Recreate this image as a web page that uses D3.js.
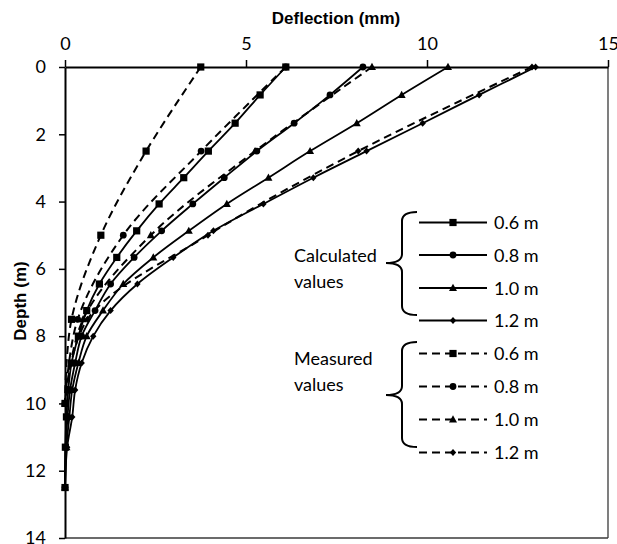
<!DOCTYPE html>
<html>
<head>
<meta charset="utf-8">
<script src="https://cdn.jsdelivr.net/npm/d3@7"></script>
<style>
  html, body { margin: 0; padding: 0; background: #fff; }
  svg { display: block; }
</style>
</head>
<body>
<svg id="chart" width="617" height="544"></svg>
<script>
// ---------------- data ----------------
const xTicks = [0, 5, 10, 15];
const yTicks = [0, 2, 4, 6, 8, 10, 12, 14];

const calcDepth = [0, 0.83, 1.67, 2.5, 3.29, 4.07, 4.87, 5.66, 6.45, 7.24, 8.0, 8.8, 9.6, 10.4, 11.3, 12.5];
const calc06 = [6.1, 5.39, 4.7, 3.96, 3.28, 2.6, 1.98, 1.43, 0.95, 0.6, 0.37, 0.18, 0.09, 0.04, 0.01, 0];
const calc08 = [8.23, 7.32, 6.33, 5.3, 4.4, 3.53, 2.67, 1.91, 1.26, 0.83, 0.46, 0.28, 0.14, 0.07, 0.02, 0];
const calc10 = [10.58, 9.3, 8.06, 6.77, 5.62, 4.47, 3.42, 2.44, 1.61, 1.05, 0.6, 0.37, 0.2, 0.12, 0.04, 0];
const calc12 = [13.0, 11.44, 9.88, 8.33, 6.86, 5.48, 4.1, 2.99, 2.0, 1.26, 0.78, 0.46, 0.28, 0.2, 0.06, 0];

const measDepth = [0, 2.5, 5, 7.5, 10];
const meas06 = [3.75, 2.24, 0.99, 0.18, 0];
const meas08 = [6.1, 3.76, 1.61, 0.35, 0];
const meas10 = [8.48, 5.25, 2.37, 0.5, 0];
const meas12 = [12.9, 8.1, 3.95, 0.62, 0];

const seriesNames = ["0.6 m", "0.8 m", "1.0 m", "1.2 m"];
const markerTypes = ["square", "circle", "triangle", "diamond"];
const calcSeries = [calc06, calc08, calc10, calc12];
const measSeries = [meas06, meas08, meas10, meas12];
const groupLabels = [["Calculated", "values"], ["Measured", "values"]];

// ---------------- layout ----------------
const svg = d3.select("#chart");
const x = d3.scaleLinear().domain([0, 15]).range([65, 608]);
const y = d3.scaleLinear().domain([0, 14]).range([67, 538]);

const TXT = "Lato, 'Open Sans', sans-serif";
const BOLD = "'Liberation Sans', Arial, sans-serif";

// frame (right and bottom)
svg.append("line").attr("x1", x(15)).attr("x2", x(15)).attr("y1", y(0)).attr("y2", y(14))
  .attr("stroke", "#3a3a3a").attr("stroke-width", 1.3);
svg.append("line").attr("x1", x(0)).attr("x2", x(15)).attr("y1", y(14)).attr("y2", y(14))
  .attr("stroke", "#3a3a3a").attr("stroke-width", 1.3);

// axes
const gx = svg.append("g").attr("transform", `translate(0,${y(0)})`)
  .call(d3.axisTop(x).tickValues(xTicks).tickSize(7).tickSizeOuter(0).tickPadding(10));
const gy = svg.append("g").attr("transform", `translate(${x(0)},0)`)
  .call(d3.axisLeft(y).tickValues(yTicks).tickSize(6).tickSizeOuter(0).tickPadding(13));
[gx, gy].forEach(g => {
  g.select(".domain").attr("stroke", "#000").attr("stroke-width", 2);
  g.selectAll(".tick line").attr("stroke", "#000").attr("stroke-width", 1.5);
  g.selectAll(".tick text").attr("font-family", TXT).attr("font-size", 18).attr("fill", "#000");
});

// axis titles
svg.append("text").attr("x", 336).attr("y", 24).attr("text-anchor", "middle")
  .attr("font-family", BOLD).attr("font-weight", "bold").attr("font-size", 17)
  .text("Deflection (mm)");
svg.append("text").attr("transform", "translate(26,301) rotate(-90)").attr("text-anchor", "middle")
  .attr("font-family", BOLD).attr("font-weight", "bold").attr("font-size", 17)
  .text("Depth (m)");

// markers
function drawMarker(g, type, cx, cy) {
  if (type === "square") {
    g.append("rect").attr("x", cx - 3.6).attr("y", cy - 3.6).attr("width", 7.2).attr("height", 7.2).attr("fill", "#000");
  } else if (type === "circle") {
    g.append("circle").attr("cx", cx).attr("cy", cy).attr("r", 3.4).attr("fill", "#000");
  } else if (type === "triangle") {
    g.append("path").attr("d", `M${cx},${cy - 4.2}L${cx + 4},${cy + 3}L${cx - 4},${cy + 3}Z`).attr("fill", "#000");
  } else {
    g.append("path").attr("d", `M${cx},${cy - 3.5}L${cx + 3.2},${cy}L${cx},${cy + 3.5}L${cx - 3.2},${cy}Z`).attr("fill", "#000");
  }
}

const line = d3.line().x(d => x(d[0])).y(d => y(d[1])).curve(d3.curveCatmullRom.alpha(0.5));

const plot = svg.append("g");
// measured (dashed)
measSeries.forEach((vals, i) => {
  const pts = vals.map((v, j) => [v, measDepth[j]]);
  plot.append("path").attr("d", line(pts)).attr("fill", "none").attr("stroke", "#000")
    .attr("stroke-width", 2).attr("stroke-dasharray", "8,5");
  pts.forEach(p => drawMarker(plot, markerTypes[i], x(p[0]), y(p[1])));
});
// calculated (solid)
calcSeries.forEach((vals, i) => {
  const pts = vals.map((v, j) => [v, calcDepth[j]]);
  plot.append("path").attr("d", line(pts)).attr("fill", "none").attr("stroke", "#000")
    .attr("stroke-width", 1.8);
  pts.forEach(p => drawMarker(plot, markerTypes[i], x(p[0]), y(p[1])));
});

// legend
const legendRows = [222.5, 255, 288, 320.5, 353.5, 386.5, 419.5, 452.5];
const lg = svg.append("g");
legendRows.forEach((ly, k) => {
  const i = k % 4;
  const dashed = k >= 4;
  lg.append("line").attr("x1", 419).attr("x2", 487).attr("y1", ly).attr("y2", ly)
    .attr("stroke", "#000").attr("stroke-width", dashed ? 2 : 1.8)
    .attr("stroke-dasharray", dashed ? "8,5" : null);
  drawMarker(lg, markerTypes[i], 453, ly);
  lg.append("text").attr("x", 494).attr("y", ly + 6.5).attr("font-family", TXT).attr("font-size", 18)
    .text(seriesNames[i]);
});

// braces
function brace(top, mid, bot) {
  const xv = 402, xr = 417, xl = 386;
  return `M${xr},${top} Q${xv},${top} ${xv},${top + 9} L${xv},${mid - 9} Q${xv},${mid} ${xl},${mid}` +
         ` Q${xv},${mid} ${xv},${mid + 9} L${xv},${bot - 9} Q${xv},${bot} ${xr},${bot}`;
}
lg.append("path").attr("d", brace(212, 263, 315)).attr("fill", "none").attr("stroke", "#000").attr("stroke-width", 2);
lg.append("path").attr("d", brace(342, 395, 447)).attr("fill", "none").attr("stroke", "#000").attr("stroke-width", 2);

// group labels
const groupBase = [261.5, 365];
groupLabels.forEach((lines, gi) => {
  lines.forEach((t, li) => {
    lg.append("text").attr("x", 294).attr("y", groupBase[gi] + li * 26).attr("font-family", TXT)
      .attr("font-size", 18).text(t);
  });
});
</script>
</body>
</html>
